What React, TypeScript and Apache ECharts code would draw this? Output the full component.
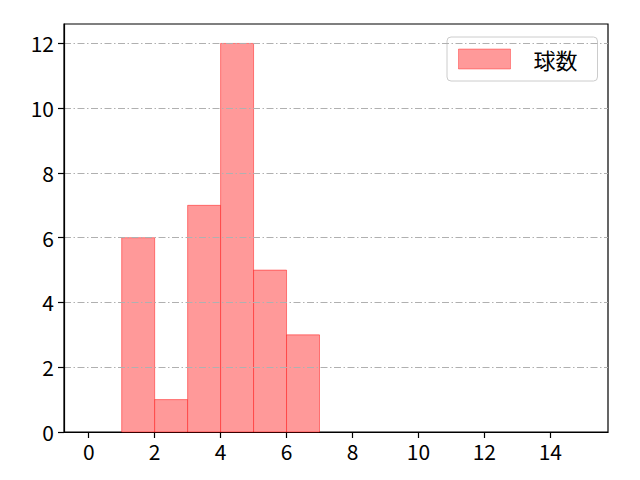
import React, { useEffect, useRef } from "react";
import * as echarts from "echarts";

const binStarts = [1, 2, 3, 4, 5, 6];
const binEnds = [2, 3, 4, 5, 6, 7];
const counts = [6, 1, 7, 12, 5, 3];
const xTicks = [0, 2, 4, 6, 8, 10, 12, 14];
const yTicks = [0, 2, 4, 6, 8, 10, 12];
const seriesName = "球数";

const FONT = "'Noto Sans CJK JP', 'DejaVu Sans', sans-serif";

export default function App() {
  const ref = useRef<HTMLDivElement>(null);
  useEffect(() => {
    if (!ref.current) return;
    const chart = echarts.init(ref.current, null, { renderer: "svg" });
    const data = binStarts.map((s, i) => [s, binEnds[i], counts[i]]);
    chart.setOption({
      animation: false,
      backgroundColor: "#ffffff",
      grid: {
        left: 64,
        top: 24,
        right: 32,
        bottom: 48,
        show: true,
        borderColor: "#000000",
        borderWidth: 1.2,
        backgroundColor: "transparent",
      },
      legend: {
        left: 447,
        top: 37,
        padding: [11, 20, 11, 11],
        itemWidth: 52,
        itemHeight: 20,
        icon: "rect",
        borderColor: "#cccccc",
        borderWidth: 1,
        borderRadius: 4,
        backgroundColor: "rgba(255,255,255,0.8)",
        textStyle: { fontSize: 22, fontFamily: FONT, color: "#000", padding: [0, 0, 0, 18] },
        data: [
          {
            name: seriesName,
            itemStyle: { color: "#ff9999", borderColor: "rgba(255,0,0,0.35)", borderWidth: 1 },
          },
        ],
      },
      xAxis: {
        type: "value",
        min: -0.75,
        max: 15.75,
        axisLine: { show: true, onZero: false, lineStyle: { color: "#000", width: 1.2 } },
        axisTick: {
          show: true,
          length: 6,
          customValues: xTicks,
          lineStyle: { color: "#000", width: 1.2 },
        },
        axisLabel: {
          customValues: xTicks,
          fontSize: 21,
          fontFamily: FONT,
          color: "#000",
          margin: 8,
        },
        splitLine: { show: false },
      },
      yAxis: {
        type: "value",
        min: 0,
        max: 12.6,
        interval: 2,
        z: 5,
        axisLine: { show: true, onZero: false, lineStyle: { color: "#000", width: 1.2 } },
        axisTick: {
          show: true,
          length: 6,
          customValues: yTicks,
          lineStyle: { color: "#000", width: 1.2 },
        },
        axisLabel: {
          customValues: yTicks,
          fontSize: 21,
          fontFamily: FONT,
          color: "#000",
          margin: 10,
        },
        splitLine: {
          show: true,
          showMinLine: false,
          showMaxLine: true,
          lineStyle: { color: "#b0b0b0", width: 1, type: [7, 2.5, 1.5, 2.5] },
        },
      },
      series: [
        {
          name: seriesName,
          type: "custom",
          z: 2,
          encode: { x: [0, 1], y: 2 },
          itemStyle: { color: "#ff9999" },
          renderItem: (params: any, api: any) => {
            const x0 = api.value(0);
            const x1 = api.value(1);
            const y = api.value(2);
            const p0 = api.coord([x0, y]);
            const p1 = api.coord([x1, 0]);
            return {
              type: "rect",
              shape: { x: p0[0], y: p0[1], width: p1[0] - p0[0], height: p1[1] - p0[1] },
              style: { fill: "#ff9999", stroke: "rgba(255,0,0,0.45)", lineWidth: 1 },
            };
          },
          data,
        },
      ],
    });
    return () => chart.dispose();
  }, []);
  return <div ref={ref} style={{ width: 640, height: 480, position: "absolute", left: 0, top: 0 }} />;
}
